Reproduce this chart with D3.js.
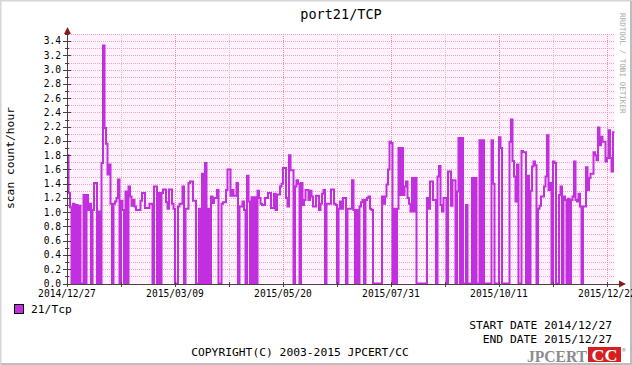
<!DOCTYPE html>
<html><head><meta charset="utf-8">
<script src="https://cdn.jsdelivr.net/npm/d3@7/dist/d3.min.js"></script>
<style>
body{margin:0;background:#fff}
svg{display:block}
text{font-family:"DejaVu Sans Mono",monospace}
</style>
</head><body>
<svg id="chart" width="632" height="365"></svg>
<script>
// ---- data ----
const chartTitle = "port21/TCP";
const yAxisTitle = "scan count/hour";
const seriesName = "21/Tcp";
const startDate = "2014-12-27";
const endDate = "2015-12-27";
const xTickLabels = ["2014/12/27","2015/03/09","2015/05/20","2015/07/31","2015/10/11","2015/12/22"];
const yTickLabels = ["0.0","0.2","0.4","0.6","0.8","1.0","1.2","1.4","1.6","1.8","2.0","2.2","2.4","2.6","2.8","3.0","3.2","3.4"];
// daily scan count/hour, 2014/12/27 .. 2015/12/26
const dailyValues = [
1.80,1.27,1.07,0,1.12,0,1.10,0,1.09,0,
0,1.24,0,1.24,1.03,1.12,0,1.03,1.41,1.41,
0,1.01,0,1.69,3.34,2.18,1.96,1.53,1.67,1.12,
0,1.12,1.15,1.20,1.46,0,1.16,1.03,0,1.29,
0,1.36,1.22,1.09,1.17,1.08,1.03,1.03,1.03,1.16,
1.27,1.27,1.06,1.06,1.06,1.12,1.12,0,1.36,1.36,
0,1.27,0,1.27,1.32,1.32,1.14,1.05,1.32,1.32,
1.12,1.05,0,0,1.08,1.12,1.12,1.36,0,1.05,
1.05,1.41,1.43,1.43,1.16,1.16,0,0,1.05,0,
1.54,0,1.69,0,1.05,0,1.22,1.13,1.20,1.20,
1.31,0,0,1.12,1.14,1.14,1.31,1.60,1.60,1.23,
1.31,1.23,1.23,1.41,0,1.08,1.08,1.15,1.03,0,
1.51,1.15,0,1.21,0,1.21,0,1.30,1.20,1.12,
1.10,1.10,1.20,1.20,1.27,1.27,1.06,1.06,1.26,1.03,
1.25,1.25,1.36,1.40,1.62,1.62,1.20,1.08,1.80,1.59,
1.59,0,1.36,1.45,1.40,0,1.41,1.10,1.17,1.31,
1.31,1.17,1.30,1.22,1.08,1.08,1.23,1.23,1.03,1.12,
1.26,1.31,0,1.12,1.12,1.12,1.32,1.32,1.12,1.10,
0,1.05,1.15,1.05,1.20,1.20,0,1.05,1.05,1.05,
1.45,1.03,0,1.03,0,1.08,1.14,1.17,0,1.17,
1.20,1.22,1.05,1.03,0,0,0,0,0,0,
1.22,1.12,1.22,1.39,1.60,1.99,1.97,0,1.05,0,
1.05,1.90,1.24,1.90,1.24,1.36,1.43,1.20,1.12,1.01,
1.48,1.01,1.48,0,0,0,0,0,0,0,
1.20,1.05,1.43,1.43,1.17,1.17,0,1.50,1.65,1.10,
1.01,1.20,1.20,0,1.57,1.57,1.09,1.45,1.45,0,
1.29,2.04,0,2.04,0,0,1.10,0,0,0,
1.48,0,1.48,0,0,2.01,0,2.01,0,0,
0,0,0,2.01,1.40,0,0,0,2.05,1.90,
0,0,0,0,0,1.99,2.30,1.72,1.50,1.15,
1.67,0,0,1.86,1.84,1.84,0,1.51,0,1.30,
1.64,1.71,1.66,0,1.05,1.09,1.22,1.22,1.36,1.50,
2.08,1.31,1.41,0,1.71,1.69,0,0,1.24,1.36,
0,1.22,1.17,0,1.19,0,1.17,1.22,1.71,1.17,
1.15,1.26,1.08,0,1.08,1.08,1.63,1.31,1.48,1.54,
1.54,1.84,1.80,1.73,2.19,1.94,2.06,1.99,1.99,1.71,
1.76,2.15,1.76,1.57,2.12
];

// ---- drawing ----
const W = 632, H = 365;
const svg = d3.select("#chart");
const lineColor = "#c12fde";
const t0 = new Date(startDate + "T00:00:00Z"), t1 = new Date(endDate + "T00:00:00Z");
const x = d3.scaleUtc().domain([t0, t1]).range([67, 614.5]);
const y = d3.scaleLinear().domain([0, 3.5]).range([283.5, 34]);

// background + frame
svg.append("rect").attr("x",0).attr("y",0).attr("width",W).attr("height",H).attr("fill","#ffffff");
svg.append("path").attr("d",`M0.5,${H}V0.5H${W}`).attr("stroke","#d6d6d6").attr("stroke-width",2).attr("fill","none");
svg.append("path").attr("d",`M1,${H-1}H${W-1}V1`).attr("stroke","#bdbdbd").attr("stroke-width",2).attr("fill","none");

// plot bg
svg.append("rect").attr("x",x(t0)).attr("y",y(3.5)).attr("width",x(t1)-x(t0)).attr("height",y(0)-y(3.5)).attr("fill","#fff1fd");

const g = svg.append("g").attr("shape-rendering","crispEdges");
// horizontal grid every 0.1
const hGrid = d3.range(1, 36).map(i => i/10);
g.selectAll(".hg").data(hGrid).join("line")
  .attr("x1",x(t0)).attr("x2",x(t1))
  .attr("y1",d=>Math.round(y(d))+0.5).attr("y2",d=>Math.round(y(d))+0.5)
  .attr("stroke","#eaa8b6").attr("stroke-dasharray","1,1");
// vertical grid every 36 days, labelled every 72
const vTicks = d3.range(1, 11).map(k => d3.utcDay.offset(t0, 36*k));
g.selectAll(".vg").data(vTicks).join("line")
  .attr("x1",d=>Math.round(x(d))+0.5).attr("x2",d=>Math.round(x(d))+0.5)
  .attr("y1",y(3.5)).attr("y2",y(0))
  .attr("stroke",(d,i)=> i%2===1 ? "#e8909e" : "#e2bccb").attr("stroke-dasharray","1,1");

// series line
const pts = dailyValues.map((v,i)=>({t:d3.utcDay.offset(t0,i), v}));
pts.push({t:t1, v:dailyValues[dailyValues.length-1]});
const line = d3.line().x(d=>x(d.t)).y(d=>y(d.v)).curve(d3.curveStepAfter);
svg.append("path").datum(pts).attr("d",line).attr("fill","none")
  .attr("stroke",lineColor).attr("stroke-width",2).attr("stroke-linejoin","miter");

// axes
const axisColor = "#4a4040";
const ax = svg.append("g").attr("shape-rendering","crispEdges");
ax.append("line").attr("x1",63).attr("x2",619).attr("y1",Math.round(y(0))+0.5).attr("y2",Math.round(y(0))+0.5).attr("stroke",axisColor);
ax.append("line").attr("x1",67.5).attr("x2",67.5).attr("y1",287).attr("y2",30).attr("stroke",axisColor);
// y ticks
hGrid.concat([0]).forEach(v=>{
  const yy = Math.round(y(v))+0.5;
  const major = Math.round(v*10)%2===0;
  ax.append("line").attr("x1",major?63:65).attr("x2",major?71:69).attr("y1",yy).attr("y2",yy).attr("stroke",axisColor);
});
vTicks.concat([t0]).forEach((d,i)=>{
  const xx = Math.round(x(d))+0.5;
  ax.append("line").attr("x1",xx).attr("x2",xx).attr("y1",y(0)-2).attr("y2",y(0)+3).attr("stroke",axisColor);
});
// arrows
svg.append("path").attr("d","M64,34L67.5,27L71,34Z").attr("fill","#8b1c1c");
svg.append("path").attr("d",`M619,${y(0)-3}L626,${y(0)+0.5}L619,${y(0)+4}Z`).attr("fill","#8b1c1c");

// y labels
svg.selectAll(".yl").data(yTickLabels).join("text")
  .attr("x",61).attr("y",d=>y(+d)).attr("dy","0.35em").attr("text-anchor","end")
  .attr("font-size",9.6).attr("fill","#000").text(d=>d);
// x labels
const xLabelDates = xTickLabels.map((s,i)=>d3.utcDay.offset(t0,72*i));
svg.selectAll(".xl").data(xTickLabels).join("text")
  .attr("x",(d,i)=>x(xLabelDates[i])).attr("y",297).attr("text-anchor","middle")
  .attr("font-size",9.6).attr("fill","#000").text(d=>d);

// title
svg.append("text").attr("x",341).attr("y",19).attr("text-anchor","middle").attr("font-size",13.5).text(chartTitle);
// y axis title
svg.append("text").attr("transform","translate(14,158) rotate(-90)").attr("text-anchor","middle").attr("font-size",11.3).text(yAxisTitle);
// watermark
svg.append("text").attr("transform","translate(620,13) rotate(90)").attr("font-size",7.6).attr("fill","#a8a8a8").text("RRDTOOL / TOBI OETIKER");

// legend
svg.append("rect").attr("x",14.5).attr("y",304.5).attr("width",9).attr("height",9).attr("fill",lineColor).attr("stroke","#000");
svg.append("text").attr("x",31).attr("y",313).attr("font-size",11.3).text(seriesName);
svg.append("text").attr("x",612).attr("y",329).attr("text-anchor","end").attr("font-size",11.3).text("START DATE " + startDate.replace(/-/g,"/"));
svg.append("text").attr("x",612).attr("y",343).attr("text-anchor","end").attr("font-size",11.3).text("END DATE " + endDate.replace(/-/g,"/"));
svg.append("text").attr("x",300).attr("y",356).attr("text-anchor","middle").attr("font-size",11.3).text("COPYRIGHT(C) 2003-2015 JPCERT/CC");

// logo
svg.append("text").attr("x",527).attr("y",362).attr("font-weight","bold").attr("font-size",16).attr("fill","#8c8c8c").attr("textLength",60).attr("lengthAdjust","spacingAndGlyphs").style("font-family","'Liberation Serif',serif").text("JPCERT");
svg.append("rect").attr("x",588).attr("y",347).attr("width",33).attr("height",15).attr("fill","#d42020");
svg.append("text").attr("x",604.5).attr("y",361).attr("text-anchor","middle").attr("font-weight","bold").attr("font-size",16).attr("fill","#fff").attr("textLength",26).attr("lengthAdjust","spacingAndGlyphs").style("font-family","'Liberation Serif',serif").text("CC");
svg.append("text").attr("x",622).attr("y",352).attr("font-size",6).attr("fill","#777").text("®");
</script>
</body></html>
